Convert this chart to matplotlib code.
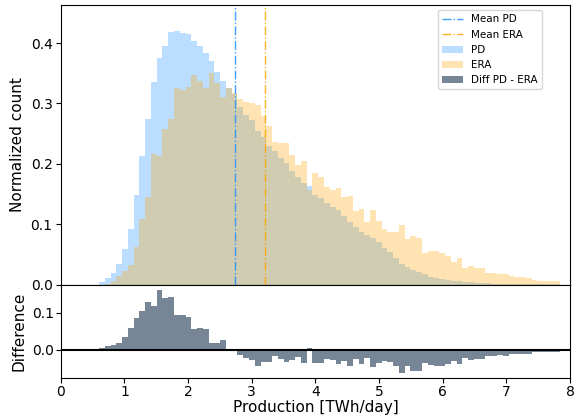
import numpy as np
import matplotlib
matplotlib.use("Agg")
import matplotlib.pyplot as plt

# Histogram bin edges (80 bins) in TWh/day
bin_edges = np.linspace(0.6, 7.85, 81)

# Normalized counts per bin
pd_counts = [
    0.005, 0.011, 0.019, 0.034, 0.059, 0.092, 0.148, 0.213, 0.274, 0.335,
    0.375, 0.396, 0.418, 0.420, 0.417, 0.415, 0.403, 0.395, 0.383, 0.370,
    0.352, 0.338, 0.326, 0.315, 0.294, 0.281, 0.273, 0.255, 0.245, 0.230,
    0.221, 0.209, 0.202, 0.188, 0.179, 0.169, 0.163, 0.149, 0.143, 0.136,
    0.129, 0.123, 0.114, 0.103, 0.096, 0.088, 0.082, 0.077, 0.070, 0.061,
    0.054, 0.044, 0.035, 0.030, 0.024, 0.021, 0.017, 0.013, 0.011, 0.009,
    0.008, 0.0066, 0.0055, 0.005, 0.004, 0.0035, 0.003, 0.0025, 0.002, 0.002,
    0.0015, 0.0015, 0.001, 0.001, 0.001, 0.001, 0.0008, 0.0006, 0.0005, 0.0004,
]
era_counts = [
    0.0, 0.002, 0.0066, 0.015, 0.023, 0.033, 0.062, 0.109, 0.146, 0.216,
    0.213, 0.257, 0.274, 0.325, 0.322, 0.327, 0.347, 0.337, 0.326, 0.351,
    0.334, 0.311, 0.325, 0.318, 0.307, 0.302, 0.300, 0.298, 0.279, 0.262,
    0.237, 0.234, 0.234, 0.215, 0.198, 0.205, 0.157, 0.185, 0.178, 0.161,
    0.156, 0.160, 0.145, 0.147, 0.122, 0.125, 0.104, 0.124, 0.106, 0.092,
    0.087, 0.088, 0.099, 0.075, 0.081, 0.077, 0.053, 0.055, 0.055, 0.052,
    0.047, 0.038, 0.045, 0.028, 0.031, 0.027, 0.027, 0.020, 0.020, 0.017,
    0.017, 0.014, 0.012, 0.012, 0.011, 0.008, 0.006, 0.0055, 0.0055, 0.0055,
]

mean_pd = 2.74
mean_era = 3.21

pd_counts = np.array(pd_counts)
era_counts = np.array(era_counts)
diff_counts = pd_counts - era_counts
centers = 0.5 * (bin_edges[:-1] + bin_edges[1:])

fig = plt.figure(figsize=(5.74, 4.19), dpi=100)
gs = fig.add_gridspec(2, 1, height_ratios=[3, 1], hspace=0.0,
                      left=0.106, right=0.993, top=0.988, bottom=0.098)
ax = fig.add_subplot(gs[0])
axd = fig.add_subplot(gs[1], sharex=ax)

l1 = ax.axvline(mean_pd, color="dodgerblue", ls="-.", lw=1.0, alpha=0.85, label="Mean PD")
l2 = ax.axvline(mean_era, color="orange", ls="-.", lw=1.0, alpha=0.85, label="Mean ERA")
_, _, p1 = ax.hist(centers, bins=bin_edges, weights=pd_counts,
                   color="dodgerblue", alpha=0.3, label="PD")
_, _, p2 = ax.hist(centers, bins=bin_edges, weights=era_counts,
                   color="orange", alpha=0.3, label="ERA")
_, _, p3 = axd.hist(centers, bins=bin_edges, weights=diff_counts,
                    color="slategray", alpha=0.95, label="Diff PD - ERA")
axd.axhline(0, color="black", lw=1.5)

ax.set_ylim(0, 0.463)
ax.set_yticks([0.0, 0.1, 0.2, 0.3, 0.4])
ax.set_ylabel("Normalized count", fontsize=11)
ax.tick_params(axis="x", bottom=False, labelbottom=False)
ax.tick_params(axis="y", labelsize=10, pad=2.5)

axd.set_xlim(0, 8)
axd.set_ylim(-0.076, 0.176)
axd.set_yticks([0.0, 0.1])
axd.set_ylabel("Difference", fontsize=11)
axd.set_xlabel("Production [TWh/day]", fontsize=11, labelpad=1)
axd.tick_params(labelsize=10, pad=1.5)

ax.legend(handles=[l1, l2, p1[0], p2[0], p3[0]], loc="upper right",
          bbox_to_anchor=(0.955, 1.0), fontsize=7.5)

fig.savefig("out.png", dpi=100)
